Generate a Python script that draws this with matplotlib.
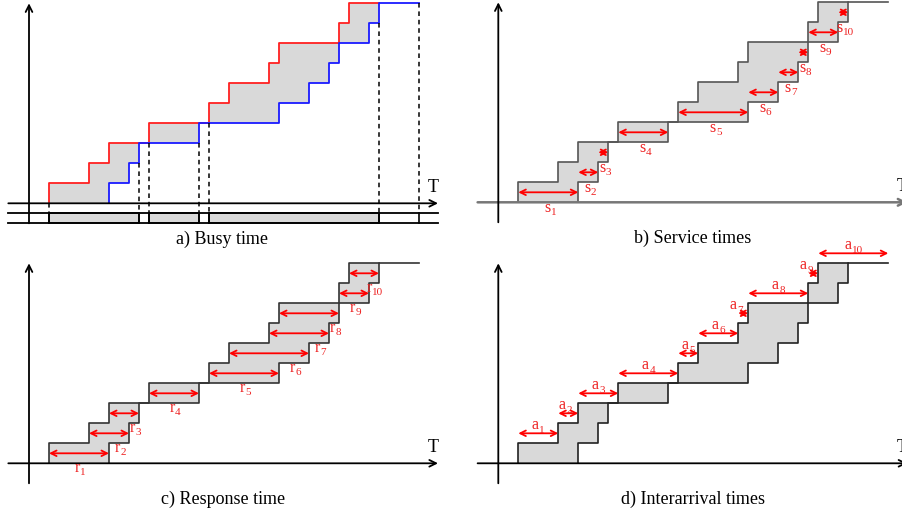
import matplotlib
matplotlib.use("Agg")
import matplotlib.pyplot as plt
from matplotlib.patches import Rectangle

plt.rcParams['font.family'] = 'Liberation Serif'

# arrival and departure instants of the 10 jobs (time units)
arrivals = [2, 6, 8, 12, 18, 20, 24, 25, 31, 32]
departures = [8, 10, 11, 17, 25, 28, 30, 31, 34, 35]
next_arrival = 39
captions = ['a) Busy time', 'b) Service times', 'c) Response time', 'd) Interarrival times']

n = len(arrivals)
starts = [arrivals[0]] + [max(arrivals[i], departures[i - 1]) for i in range(1, n)]

W, H = 902, 514
GRAY = '#d9d9d9'
LABEL_RED = '#ee2222'
fig = plt.figure(figsize=(W / 100, H / 100), dpi=100)


def panel(x0, y0):
    # one axes over the whole figure, origin at pixel (x0, y0), 10 px per time unit, 20 px per job
    ax = fig.add_axes([0, 0, 1, 1])
    ax.set_xlim(-x0 / 10, (W - x0) / 10)
    ax.set_ylim((y0 - H) / 20, y0 / 20)
    ax.axis('off')
    return ax


def arrow(ax, x1, y1, x2, y2, style='->', color='black', lw=1.3, ms=12, z=3):
    ax.annotate('', xy=(x2, y2), xytext=(x1, y1), annotation_clip=False,
                arrowprops=dict(arrowstyle=style, color=color, lw=lw, shrinkA=0, shrinkB=0,
                                mutation_scale=ms), zorder=z)


def axes_lines(ax, xcolor='black', xlw=1.3):
    arrow(ax, -2.07, 0, 40.9, 0, color=xcolor, lw=xlw)
    arrow(ax, 0, -1, 0, 10)
    ax.text(40.4, 0.8, 'T', fontsize=13, ha='center', va='center')


def strips(ax):
    for i in range(n):
        ax.add_patch(Rectangle((arrivals[i], i), departures[i] - arrivals[i], 1,
                               fc=GRAY, ec='none', zorder=1))


def stairs(times, end):
    xs, ys = [], []
    for k, t in enumerate(times):
        xs += [t, t]
        ys += [k, k + 1]
    xs.append(end)
    ys.append(len(times))
    return xs, ys


def outline(ax, color):
    ax.plot(*stairs(arrivals, departures[-1]), color=color, lw=1.2, zorder=2)
    ax.plot(*stairs(departures, next_arrival), color=color, lw=1.2, zorder=2)


LETTER_EM = {'a': 0.444, 's': 0.389, 'r': 0.333}
LETTER_PT, DIGIT_PT = 11.5, 8


def label(ax, x, y, letter, k):
    # letter with a lowered index, centred on x, letter baseline at y
    lw_px = LETTER_EM[letter] * LETTER_PT * 100 / 72
    dw_px = len(str(k)) * 0.5 * DIGIT_PT * 100 / 72
    x0 = -(lw_px + dw_px) / 2
    ax.annotate(letter, (x, y), xytext=(x0, 0), textcoords='offset pixels', annotation_clip=False,
                color=LABEL_RED, fontsize=LETTER_PT, ha='left', va='baseline', zorder=5)
    ax.annotate(str(k), (x, y), xytext=(x0 + lw_px + 0.3, -3.5), textcoords='offset pixels',
                annotation_clip=False, color=LABEL_RED, fontsize=DIGIT_PT, ha='left',
                va='baseline', zorder=5)


# a) busy time
ax = panel(29, 203.3)
strips(ax)
ax.plot(*stairs(arrivals, departures[-1]), color='#ff2020', lw=1.3, zorder=2)
ax.plot(*stairs(departures, next_arrival), color='#1a1aff', lw=1.3, zorder=2)
axes_lines(ax)
for y in (-0.5, -1):
    ax.plot([-2.07, 40.9], [y, y], color='black', lw=1.3, zorder=3)
edges = [(arrivals[0], 0)]
b0 = arrivals[0]
for i in range(1, n):
    if arrivals[i] > departures[i - 1]:
        ax.add_patch(Rectangle((b0, -1), departures[i - 1] - b0, 0.5, fc=GRAY, ec='black', lw=1.2, zorder=2))
        edges += [(departures[i - 1], i - 1), (arrivals[i], i)]
        b0 = arrivals[i]
ax.add_patch(Rectangle((b0, -1), departures[-1] - b0, 0.5, fc=GRAY, ec='black', lw=1.2, zorder=2))
edges += [(departures[-1], n - 1), (next_arrival, n)]
for t, top in edges:
    ax.plot([t, t], [top, -0.5], color='black', lw=1.1, ls=(0, (3, 2.5)), zorder=2)
    ax.plot([t, t], [-0.5, -1], color='black', lw=1.2, zorder=2)

# b) service times
ax = panel(498.3, 202.3)
strips(ax)
outline(ax, '#555555')
axes_lines(ax, xcolor='#777777', xlw=1.8)
for i in range(n):
    arrow(ax, starts[i], i + 0.5, departures[i], i + 0.5, style='<->', color='red', ms=10, z=4)
    label(ax, (starts[i] + departures[i]) / 2 + 0.2, i - 0.47, 's', i + 1)

# c) response time
ax = panel(29, 463.3)
strips(ax)
outline(ax, '#333333')
axes_lines(ax)
for i in range(n):
    arrow(ax, arrivals[i], i + 0.5, departures[i], i + 0.5, style='<->', color='red', ms=10, z=4)
    label(ax, (starts[i] + departures[i]) / 2 + 0.1, i - 0.43, 'r', i + 1)

# d) interarrival times
ax = panel(498.3, 463.3)
strips(ax)
outline(ax, '#222222')
axes_lines(ax)
nxt = arrivals[1:] + [next_arrival]
label_dx = [0, -0.3, 0, 0, 0, 0, -0.7, 0, -0.7, 0]
for i in range(n):
    arrow(ax, arrivals[i], i + 1.5, nxt[i], i + 1.5, style='<->', color='red', ms=10, z=4)
    label(ax, (arrivals[i] + nxt[i]) / 2 + label_dx[i], i + 1.71, 'a', i + 1)

# captions
for (x, y), cap in zip([(222, 239), (693, 238), (223, 499), (693, 499)], captions):
    fig.text(x / W, 1 - y / H, cap, fontsize=13, ha='center', va='center')

fig.savefig('out.png', dpi=100)
